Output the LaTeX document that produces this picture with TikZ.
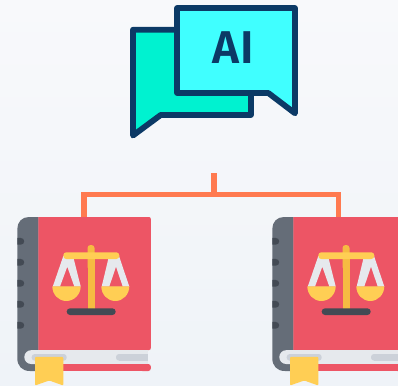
\documentclass[tikz,border=0pt]{standalone}
\usepackage{fontspec}
\newfontfamily\aifont{Fira Sans SemiBold}[LetterSpace=2]
\definecolor{bgtop}{HTML}{F8F9FB}
\definecolor{bgbot}{HTML}{EFF3F8}
\definecolor{navy}{HTML}{0C3A66}
\definecolor{backb}{HTML}{00F2D0}
\definecolor{frontb}{HTML}{40FFFF}
\definecolor{wire}{HTML}{FF7A50}
\definecolor{spine}{HTML}{656D78}
\definecolor{dark}{HTML}{434A54}
\definecolor{cover}{HTML}{ED5565}
\definecolor{pagec}{HTML}{E6E9ED}
\definecolor{pagesh}{HTML}{CCD1D9}
\definecolor{gold}{HTML}{FFCE54}
\definecolor{pole}{HTML}{F6BB42}
\tikzset{
  bubble/.style={draw=navy,line width=5.8pt,line join=round},
  connector/.style={draw=wire,line width=5.4pt},
  pics/lawbook/.style={code={
    \fill[spine] (38.5,217) -- (29,217) .. controls (22,217) and (17.3,222) .. (17.3,229)
      -- (17.3,358) .. controls (17.3,366) and (22,371) .. (30,371) -- (40,371) -- (40,350) -- (38.5,350) -- cycle;
    \fill[cover] (38.3,217) -- (149,217) .. controls (150.2,217) and (150.8,217.8) .. (150.8,219)
      -- (150.8,348) .. controls (150.8,349.4) and (150.2,350) .. (149,350) -- (38.3,350) -- cycle;
    \foreach \dy in {241.3,262.3,283.3,304.3,325.3}
      \fill[dark] (17.3,\dy-3.4) -- (20.5,\dy-3.4) .. controls (22.8,\dy-3.4) and (24.2,\dy-2) .. (24.2,\dy)
        .. controls (24.2,\dy+2) and (22.8,\dy+3.4) .. (20.5,\dy+3.4) -- (17.3,\dy+3.4) -- cycle;
    \fill[cover] (45,364) rectangle (149,371);
    \fill[cover,rounded corners=2.5pt] (140,364) rectangle (150.8,371);
    \fill[pagec,rounded corners=6.8pt] (24.3,350.2) rectangle (60,364);
    \fill[pagec] (40,350.2) rectangle (147.5,364);
    \fill[pagesh,rounded corners=3pt] (31.7,354) rectangle (66.7,360.7);
    \fill[pagesh] (119,354) rectangle (147.5,360.7);
    \fill[pagesh,rounded corners=3pt] (116,354) rectangle (124,360.7);
    \fill[gold,rounded corners=1pt] (35,356.8) -- (63.3,356.8) -- (63.3,385.5) -- (49.2,380.5) -- (35,385.5) -- cycle;
    % scales
    \fill[pagec,even odd rule] (63.3,256) -- (73,256) -- (80.7,286.5) -- (52.8,286.5) -- cycle
       (67.3,266.7) -- (60,286.5) -- (74.3,286.5) -- cycle;
    \fill[pagec,even odd rule] (109,256) -- (119,256) -- (129.3,286.5) -- (101.7,286.5) -- cycle
       (116,266.7) -- (109.3,286.5) -- (122.7,286.5) -- cycle;
    \fill[gold] (52.3,286.3) .. controls (52.3,294.5) and (58.5,301) .. (66.3,301) .. controls (74,301) and (80.7,294.5) .. (80.7,286.3) -- cycle;
    \fill[gold] (101.3,286.3) .. controls (101.3,294.5) and (107.5,301) .. (115.3,301) .. controls (123,301) and (129.3,294.5) .. (129.3,286.3) -- cycle;
    \fill[pole,rounded corners=3pt] (87.5,245) rectangle (94.5,270);
    \fill[pole] (87.5,255) rectangle (94.5,309);
    \fill[gold,rounded corners=3pt] (63.3,252.3) rectangle (119.3,259);
    \fill[dark,rounded corners=3.3pt] (66.7,308.3) rectangle (115.7,315);
  }}
}
\begin{document}
\begin{tikzpicture}[x=1pt,y=-1pt]
\useasboundingbox (0,0) rectangle (398,385);
\clip (0,0) rectangle (398,385);
\shade[top color=bgtop,bottom color=bgbot] (0,0) rectangle (398,385);
% chat bubbles
\path[bubble,fill=backb] (133,29.7) -- (251,29.7) -- (251,115) -- (160.7,115) -- (133,135.5) -- cycle;
\path[bubble,fill=frontb] (177,8) -- (295,8) -- (295,113.3) -- (268.3,93) -- (177,93) -- cycle;
\node[inner sep=0pt,text=navy,font=\aifont\fontsize{46}{46}\selectfont] (ailabel) at (233,48) {AI};
% connector
\coordinate (stem) at (214,173);
\coordinate (junction) at (214,194.7);
\coordinate (bookA) at (84,217);
\coordinate (bookB) at (338.5,217);
\draw[connector] (stem) -- (junction);
\draw[connector] (bookA) |- (junction) -| (bookB);
% books
\pic (lawA) at (0,0) {lawbook};
\pic (lawB) at (255,0) {lawbook};
\end{tikzpicture}
\end{document}
